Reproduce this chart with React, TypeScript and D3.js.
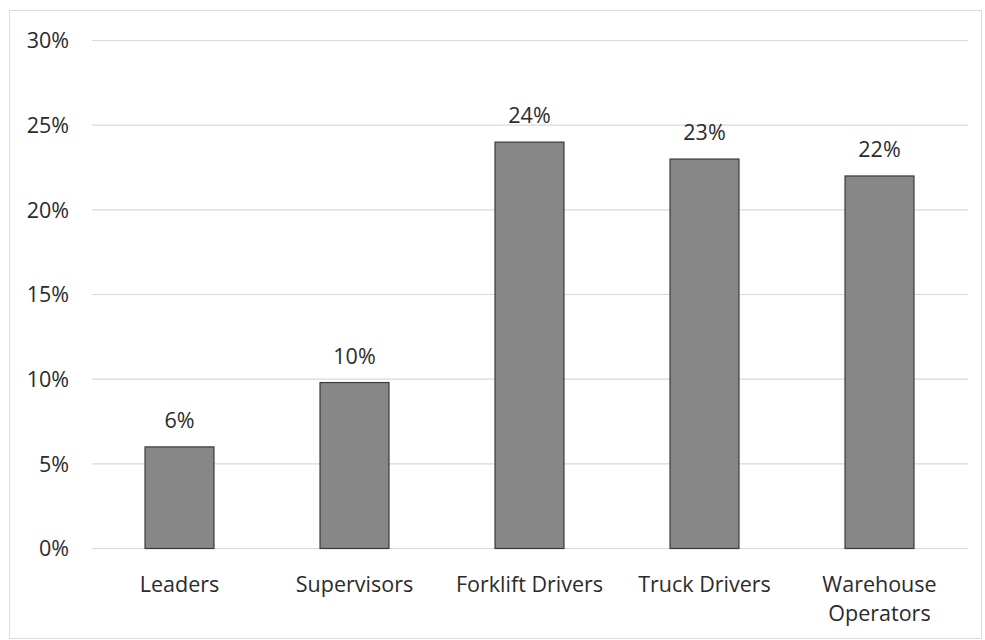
import React from "react";
import * as d3 from "d3";

const categories: string[][] = [
  ["Leaders"],
  ["Supervisors"],
  ["Forklift Drivers"],
  ["Truck Drivers"],
  ["Warehouse", "Operators"],
];
const values: number[] = [6, 9.8, 24, 23, 22];
const valueLabels: string[] = ["6%", "10%", "24%", "23%", "22%"];
const yTicks: number[] = [0, 5, 10, 15, 20, 25, 30];

const W = 985;
const H = 640;
const font = "Open Sans, Noto Sans, sans-serif";
const fs = 21.5;

export default function App() {
  const x = d3
    .scaleBand<number>()
    .domain(values.map((_, i) => i))
    .range([92, 967])
    .paddingInner(0.606)
    .paddingOuter(0.303);
  const y = d3.scaleLinear().domain([0, 30]).range([548.5, 40.5]);

  return (
    <svg
      width={W}
      height={H}
      style={{ position: "absolute", left: 0, top: 0, background: "#fff" }}
    >
      <rect x={9.5} y={10.5} width={972} height={628} fill="#fff" stroke="#dcdcdc" strokeWidth={1} />
      {yTicks.map((t) => (
        <g key={t}>
          <line x1={92} x2={968} y1={y(t)} y2={y(t)} stroke="#d9d9d9" strokeWidth={1.2} />
          <text
            x={69}
            y={y(t)}
            dy="0.36em"
            textAnchor="end"
            fontFamily={font}
            fontSize={fs}
            fill="#2b2b2b"
          >
            {t}%
          </text>
        </g>
      ))}
      {values.map((v, i) => {
        const bx = x(i)!;
        const bw = x.bandwidth();
        return (
          <g key={i}>
            <rect
              x={bx}
              y={y(v)}
              width={bw}
              height={y(0) - y(v)}
              fill="#878787"
              stroke="#3a3a3a"
              strokeWidth={1.2}
            />
            <text
              x={bx + bw / 2}
              y={y(v) - 19}
              textAnchor="middle"
              fontFamily={font}
              fontSize={fs}
              fill="#2b2b2b"
            >
              {valueLabels[i]}
            </text>
            {categories[i].map((line, j) => (
              <text
                key={j}
                x={bx + bw / 2}
                y={592 + j * 29}
                textAnchor="middle"
                fontFamily={font}
                fontSize={fs}
                fill="#2b2b2b"
              >
                {line}
              </text>
            ))}
          </g>
        );
      })}
    </svg>
  );
}
